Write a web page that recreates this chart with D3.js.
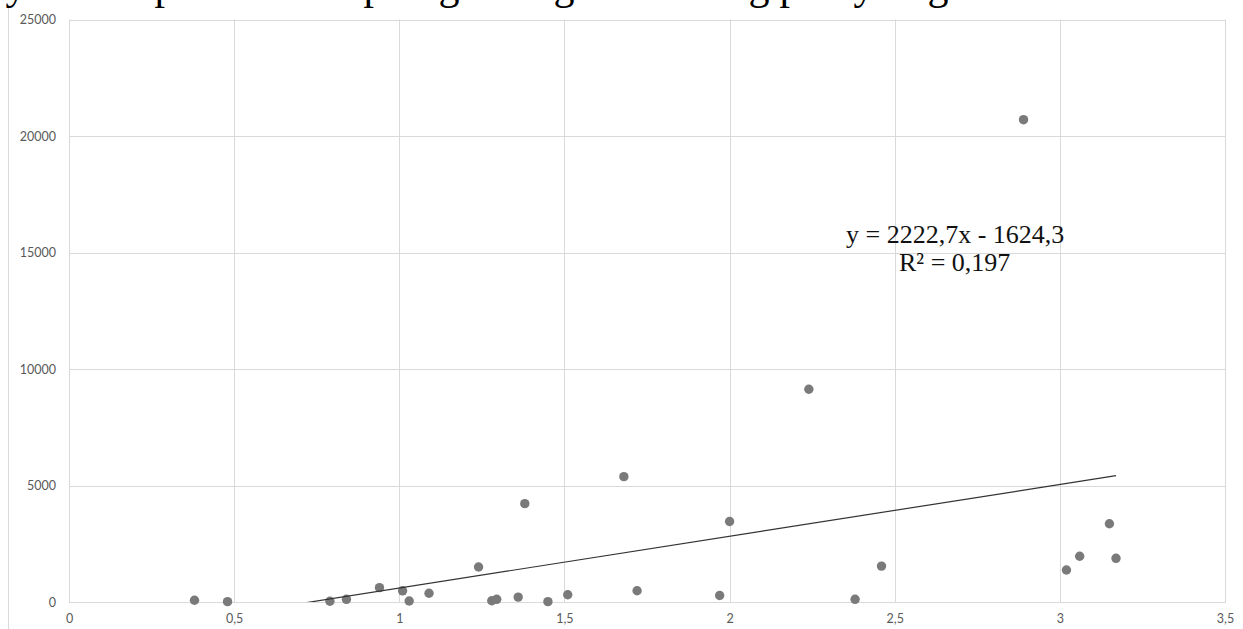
<!DOCTYPE html>
<html>
<head>
<meta charset="utf-8">
<script src="https://cdn.jsdelivr.net/npm/d3@7"></script>
<style>
  html, body { margin: 0; padding: 0; background: #ffffff; }
  svg { display: block; }
</style>
</head>
<body>
<svg id="chart" width="1243" height="629"></svg>
<script>
// ---- data ----
const xValues = [0.38, 0.48, 0.79, 0.84, 0.94, 1.01, 1.03, 1.09, 1.24, 1.28, 1.295, 1.36, 1.38, 1.45, 1.51, 1.68, 1.72, 1.97, 2.0, 2.24, 2.38, 2.46, 2.89, 3.02, 3.06, 3.15, 3.17];
const yValues = [75, 15, 30, 115, 615, 480, 45, 375, 1500, 55, 115, 210, 4220, 15, 310, 5380, 485, 280, 3455, 9130, 115, 1540, 20700, 1375, 1965, 3360, 1875];
const xTicks = [0, 0.5, 1, 1.5, 2, 2.5, 3, 3.5];
const yTicks = [0, 5000, 10000, 15000, 20000, 25000];
const trendCoef = [2222.7, -1624.3]; // slope, intercept
const equationLines = ["y = 2222,7x - 1624,3", "R\u00B2 = 0,197"];
// descender fragments of a cut-off text line above the chart
const topGlyphs = ["y", "p", "p", "g", "g", "g", "p", "y", "g"];
const topGlyphX = [16, 165, 374, 449, 564, 759, 790, 864, 938];

// ---- layout ----
const svg = d3.select("#chart");
const x = d3.scaleLinear().domain([0, 3.5]).range([69, 1225]);
const y = d3.scaleLinear().domain([0, 25000]).range([602, 19.5]);
const crisp = v => Math.round(v) + 0.5;
const fmt = v => String(v).replace(".", ",");

// document frame line at left
svg.append("line")
  .attr("x1", 8.5).attr("x2", 8.5).attr("y1", 5).attr("y2", 629)
  .attr("stroke", "#d9d9d9").attr("stroke-width", 1);

// cut-off text fragments at top
svg.append("g").selectAll("text").data(topGlyphs).join("text")
  .attr("x", (d, i) => topGlyphX[i])
  .attr("y", -1)
  .attr("text-anchor", "middle")
  .attr("font-family", "'Liberation Serif', 'Times New Roman', serif")
  .attr("font-size", 42)
  .attr("fill", "#000")
  .text(d => d);

// gridlines
const grid = svg.append("g");
grid.selectAll("line.h").data(yTicks).join("line")
  .attr("class", "h")
  .attr("x1", x(0)).attr("x2", x(3.5) + 1)
  .attr("y1", d => crisp(y(d))).attr("y2", d => crisp(y(d)))
  .attr("stroke", "#d9d9d9").attr("stroke-width", 1);
grid.selectAll("line.v").data(xTicks).join("line")
  .attr("class", "v")
  .attr("x1", d => crisp(x(d))).attr("x2", d => crisp(x(d)))
  .attr("y1", y(25000)).attr("y2", y(0))
  .attr("stroke", "#d9d9d9").attr("stroke-width", 1);

// axes (labels only)
const xAxis = d3.axisBottom(x).tickValues(xTicks).tickFormat(fmt).tickSize(0).tickPadding(12);
const yAxis = d3.axisLeft(y).tickValues(yTicks).tickFormat(d => String(d)).tickSize(0).tickPadding(13);
const gx = svg.append("g").attr("transform", `translate(0,${y(0)})`).call(xAxis);
const gy = svg.append("g").attr("transform", `translate(${x(0)},0)`).call(yAxis);
[gx, gy].forEach(g => {
  g.select(".domain").remove();
  g.selectAll("text")
    .attr("font-family", "Lato, 'Open Sans', sans-serif")
    .attr("font-size", 12.5)
    .attr("fill", "#595959");
});

// clip for trendline
svg.append("clipPath").attr("id", "plotclip")
  .append("rect").attr("x", x(0)).attr("y", y(25000))
  .attr("width", x(3.5) - x(0)).attr("height", y(0) - y(25000));

// points
svg.append("g").selectAll("circle").data(xValues).join("circle")
  .attr("cx", (d, i) => x(d))
  .attr("cy", (d, i) => y(yValues[i]))
  .attr("r", 4.7)
  .attr("fill", "#7a7a7a");

// trendline across data range
const xMin = d3.min(xValues), xMax = d3.max(xValues);
const trend = [xMin, xMax].map(v => [v, trendCoef[0] * v + trendCoef[1]]);
svg.append("path")
  .datum(trend)
  .attr("clip-path", "url(#plotclip)")
  .attr("d", d3.line().x(d => x(d[0])).y(d => y(d[1])))
  .attr("fill", "none")
  .attr("stroke", "#333333")
  .attr("stroke-width", 1.2);

// equation label
const eqX = [846, 899];
const eqY = [243, 271];
svg.append("g").selectAll("text").data(equationLines).join("text")
  .attr("x", (d, i) => eqX[i])
  .attr("y", (d, i) => eqY[i])
  .attr("font-family", "'Liberation Serif', 'Times New Roman', serif")
  .attr("font-size", 26)
  .attr("fill", "#111")
  .text(d => d);
</script>
</body>
</html>
